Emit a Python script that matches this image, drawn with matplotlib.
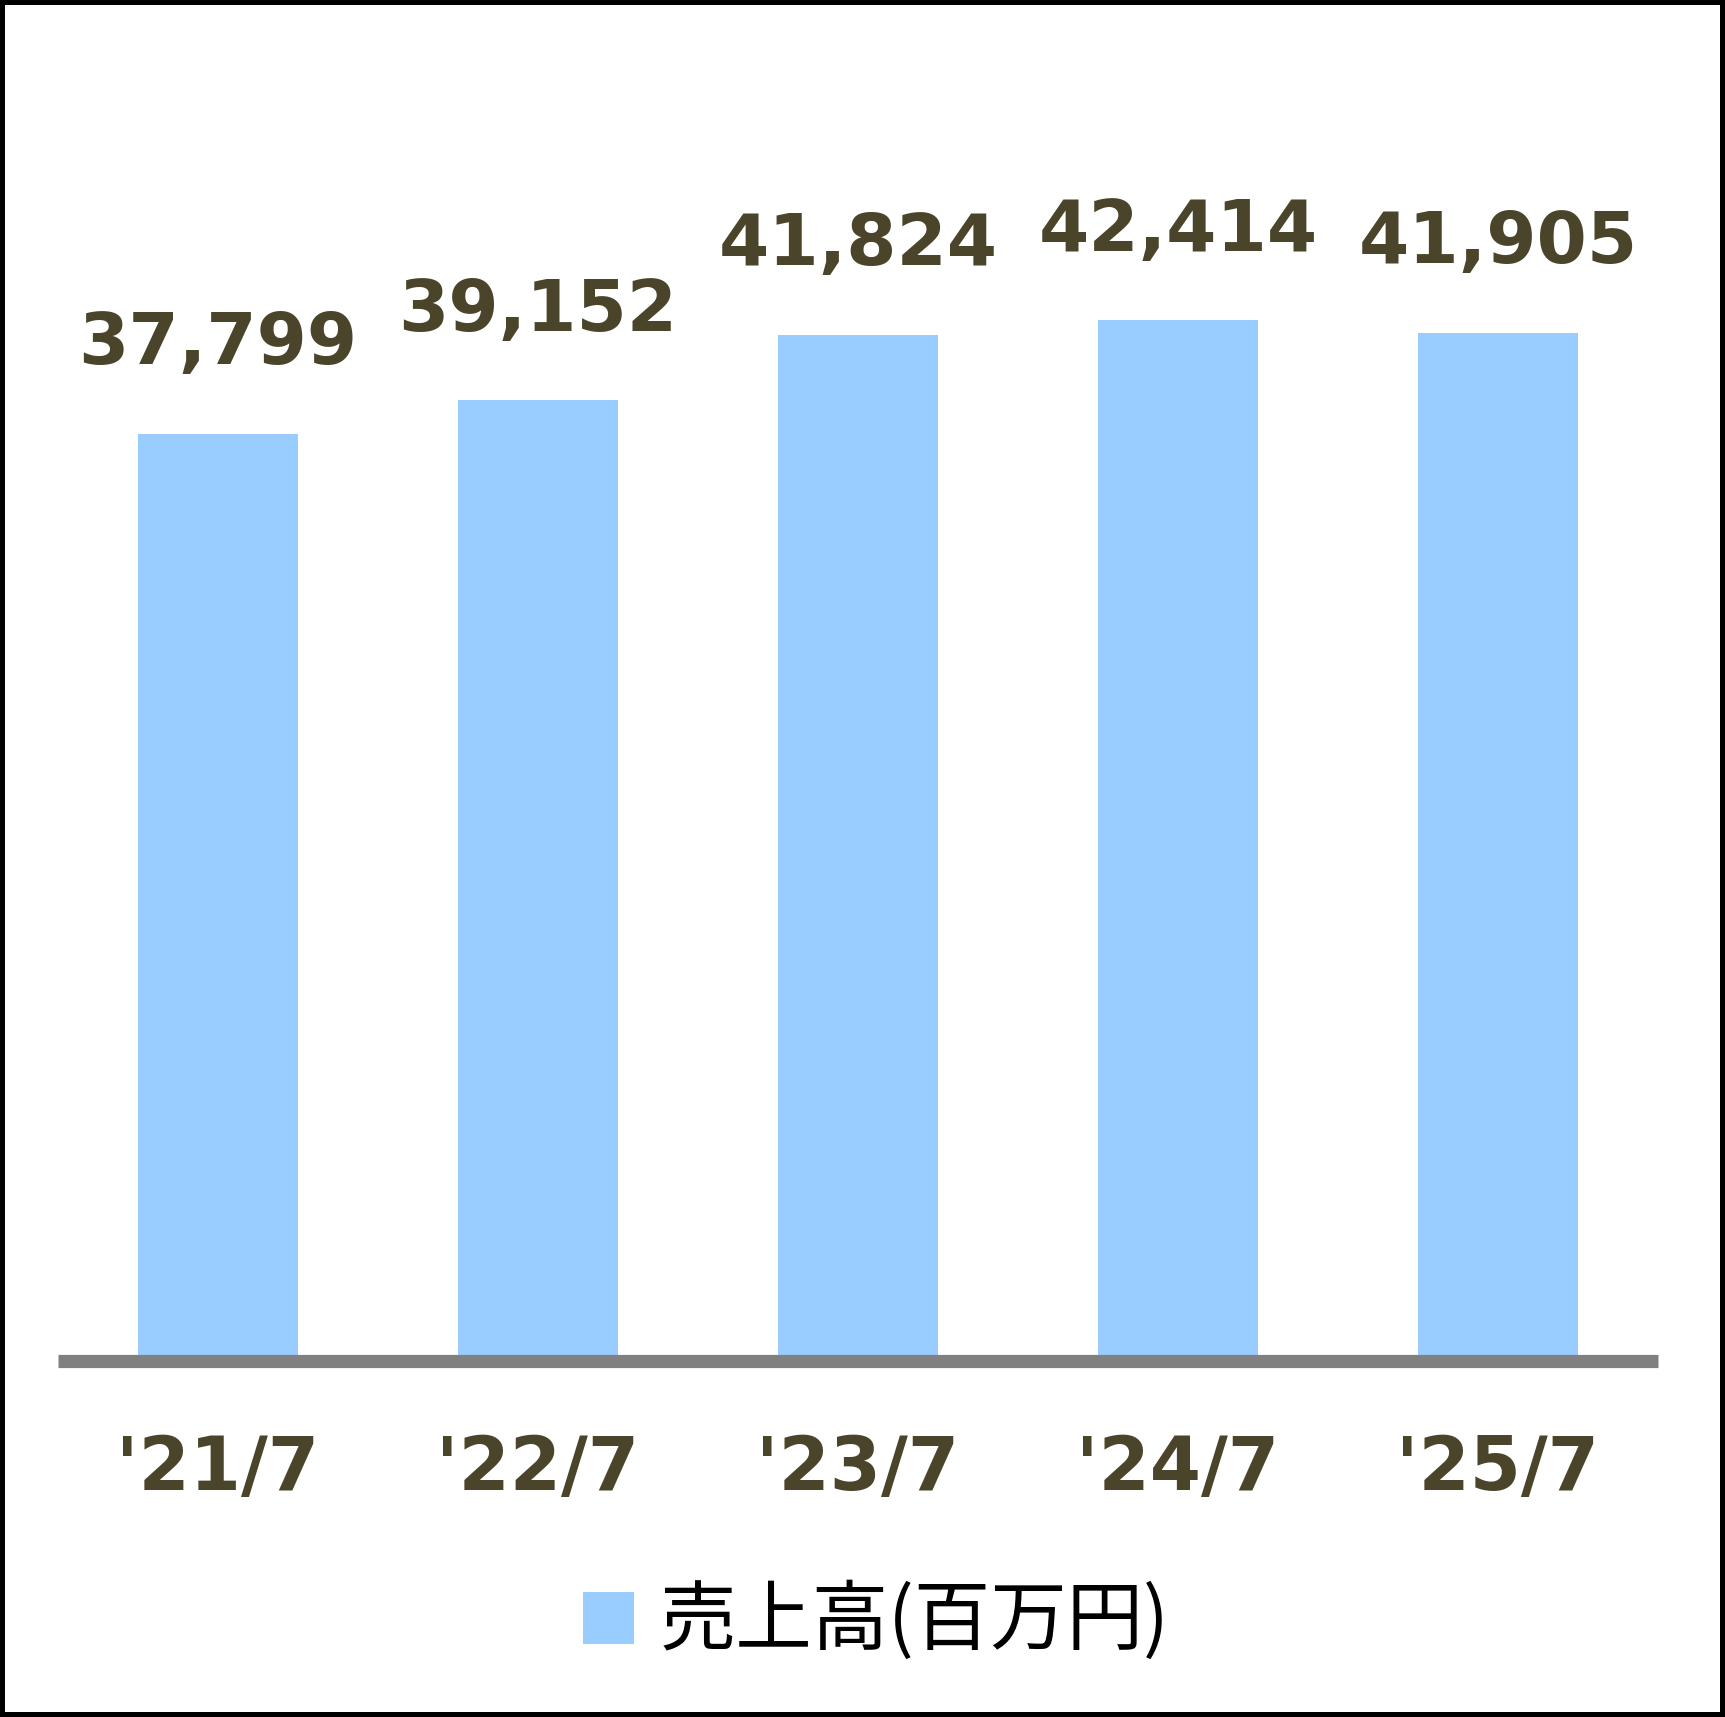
import matplotlib.pyplot as plt
from matplotlib.patches import Rectangle

# sales (million yen) per fiscal year ending July
periods = ["'21/7", "'22/7", "'23/7", "'24/7", "'25/7"]
sales = [37799, 39152, 41824, 42414, 41905]
series_name = '売上高(百万円)'

bar_color = '#99CCFF'
text_color = '#4A452A'
axis_color = '#808080'

fig = plt.figure(figsize=(17.25, 17.17), dpi=100)
ax = fig.add_axes([0.0336, 0.2073, 0.9275, 0.7146])

x = range(len(periods))
bars = ax.bar(x, sales, width=0.5, color=bar_color, label=series_name, zorder=1)

ax.set_xlim(-0.5, len(periods) - 0.5)
ax.set_ylim(0, 50000)

for spine in ['top', 'left', 'right']:
    ax.spines[spine].set_visible(False)
ax.spines['bottom'].set_color(axis_color)
ax.spines['bottom'].set_linewidth(9.5)
ax.spines['bottom'].set_capstyle('butt')
ax.spines['bottom'].set_zorder(3)

ax.set_yticks([])
ax.set_xticks(list(x))
ax.set_xticklabels(periods, fontsize=53, fontweight='bold', color=text_color,
                   family='DejaVu Sans')
ax.tick_params(axis='x', length=0, pad=52)

for bar, val in zip(bars, sales):
    ax.annotate(f'{val:,}', (bar.get_x() + bar.get_width() / 2, val),
                xytext=(0, 50), textcoords='offset points',
                ha='center', va='baseline', fontsize=52, fontweight='bold',
                color=text_color, family='DejaVu Sans')

fig.legend(loc='center', bbox_to_anchor=(0.508, 0.055), frameon=False,
           prop={'family': ['Noto Sans CJK JP', 'DejaVu Sans'], 'size': 55},
           handlelength=0.67, handleheight=0.67, handletextpad=0.34)

# black frame round the whole picture
fig.patches.append(Rectangle((0, 0), 1, 1, transform=fig.transFigure,
                             fill=False, edgecolor='black', linewidth=7.2))

fig.savefig('out.png', dpi=100, facecolor='white')
